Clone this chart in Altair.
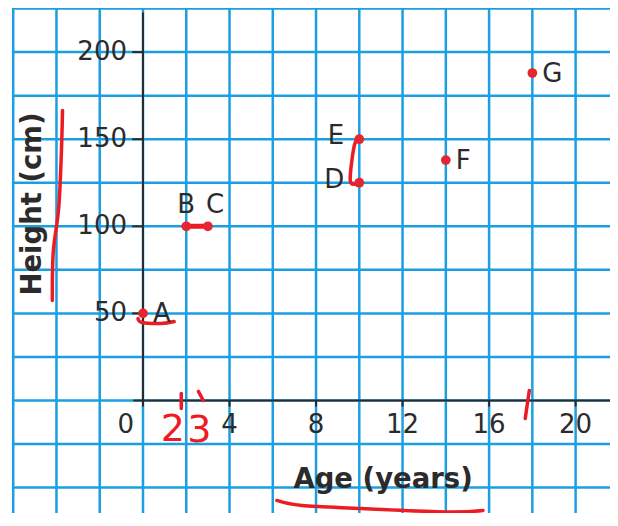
import altair as alt
import pandas as pd

# ---- data ----
labels = ["A", "B", "C", "D", "E", "F", "G"]
ages = [0, 2, 3, 10, 10, 14, 18]
heights = [50, 100, 100, 125, 150, 138, 188]
label_place = ["right", "above", "above_r", "left", "left", "right", "right"]

x_tick_values = [4, 8, 12, 16, 20]
y_tick_values = [50, 100, 150, 200]
origin_label = "0"
grid_x = list(range(-6, 23, 2))
grid_y = list(range(-75, 226, 25))

x_title = "Age (years)"
y_title = "Height (cm)"

# hand-drawn red annotation strokes (age, height)
ann_strokes = {
    "height_bar": [(-3.72, 166.5), (-3.78, 140.0), (-3.9, 110.0), (-4.15, 85.0), (-4.19, 57.4)],
    "a_under": [(-0.23, 47.1), (-0.05, 44.8), (0.84, 44.2), (1.44, 45.3)],
    "de": [(10.0, 150.4), (9.77, 146.4), (9.58, 126.3), (9.9, 124.6)],
    "tick2": [(1.77, 4.0), (1.77, -4.6)],
    "tick3": [(2.56, 5.2), (2.79, 0.0)],
    "tick18": [(17.86, 5.7), (17.67, -10.3)],
    "age_under": [(6.19, -57.4), (7.35, -60.3), (10.14, -62.0), (14.0, -64.0), (15.72, -63.1)],
}
bc_link = [(2, 100), (3, 100)]
ann_text = ["2", "3"]
ann_text_x = [1.38, 2.6]
ann_text_y = [-17.0, -17.5]

# ---- frames ----
pts = pd.DataFrame({"label": labels, "age": ages, "height": heights, "place": label_place})
ann_rows = []
for k, seq in ann_strokes.items():
    for i, (a, h) in enumerate(seq):
        ann_rows.append({"stroke": k, "i": i, "age": a, "height": h})
ann = pd.DataFrame(ann_rows)
bc = pd.DataFrame({"i": [0, 1], "age": [p[0] for p in bc_link], "height": [p[1] for p in bc_link]})
anntxt = pd.DataFrame({"t": ann_text, "age": ann_text_x, "height": ann_text_y})

W, H = 602, 502
X_MIN, X_MAX = -6.241, 21.59
xs = alt.Scale(domain=[X_MIN, X_MAX], nice=False, zero=False)
ys = alt.Scale(domain=[-64.6, 223.6], nice=False, zero=False)


def X(f):
    return alt.X(f, type="quantitative", scale=xs, axis=None)


def Y(f):
    return alt.Y(f, type="quantitative", scale=ys, axis=None)


BLUE = "#1c9fe2"
RED = "#ec1c24"
INK = "#2b2b2b"
FONT = "DejaVu Sans"

gx = alt.Chart(pd.DataFrame({"v": grid_x})).mark_rule(color=BLUE, strokeWidth=2.5).encode(
    x=X("v"), y=alt.value(-3.5), y2=alt.value(H + 2)
)
gy = alt.Chart(pd.DataFrame({"v": grid_y})).mark_rule(color=BLUE, strokeWidth=2.5).encode(
    y=Y("v"), x=alt.X(datum=-6.06, scale=xs, axis=None), x2=alt.value(W + 2)
)

base_one = alt.Chart(pd.DataFrame({"d": [0]}))
y_axis_line = base_one.mark_rule(color=INK, strokeWidth=2).encode(
    x=alt.X(datum=0, scale=xs, axis=None), y=alt.Y(datum=-3.5, scale=ys, axis=None), y2=alt.datum(222.7)
)
x_axis_line = base_one.mark_rule(color=INK, strokeWidth=2).encode(
    y=alt.Y(datum=0, scale=ys, axis=None), x=alt.X(datum=-0.45, scale=xs, axis=None), x2=alt.value(W + 2)
)
y_ticks = alt.Chart(pd.DataFrame({"v": y_tick_values})).mark_rule(color=INK, strokeWidth=2).encode(
    y=Y("v"), x=alt.X(datum=-0.5, scale=xs, axis=None), x2=alt.datum(0)
)
x_ticks = alt.Chart(pd.DataFrame({"v": x_tick_values})).mark_rule(color=INK, strokeWidth=2).encode(
    x=X("v"), y=alt.Y(datum=0, scale=ys, axis=None), y2=alt.datum(-3.5)
)
y_labels = alt.Chart(pd.DataFrame({"v": y_tick_values})).mark_text(
    font=FONT, fontSize=26, color=INK, align="right", baseline="middle", dx=-16
).encode(y=Y("v"), x=alt.X(datum=0, scale=xs, axis=None), text=alt.Text("v:Q"))
x_labels = alt.Chart(pd.DataFrame({"v": x_tick_values})).mark_text(
    font=FONT, fontSize=26, color=INK, align="center", baseline="top", dy=12
).encode(x=X("v"), y=alt.Y(datum=0, scale=ys, axis=None), text=alt.Text("v:Q"))
o_label = alt.Chart(pd.DataFrame({"t": [origin_label]})).mark_text(
    font=FONT, fontSize=26, color=INK, align="right", baseline="top", dx=-9, dy=12
).encode(x=alt.X(datum=0, scale=xs, axis=None), y=alt.Y(datum=0, scale=ys, axis=None), text="t:N")

x_tt = alt.Chart(pd.DataFrame({"t": [x_title]})).mark_text(
    font=FONT, fontSize=27.5, fontWeight="bold", color=INK, align="center", baseline="alphabetic"
).encode(x=alt.X(datum=11.1, scale=xs, axis=None), y=alt.Y(datum=-50.5, scale=ys, axis=None), text="t:N")
y_tt = alt.Chart(pd.DataFrame({"t": [y_title]})).mark_text(
    font=FONT, fontSize=27.5, fontWeight="bold", color=INK, align="center", baseline="alphabetic", angle=270
).encode(x=alt.X(datum=-4.7, scale=xs, axis=None), y=alt.Y(datum=112.8, scale=ys, axis=None), text="t:N")

ann_lines = alt.Chart(ann).mark_line(
    color=RED, strokeWidth=3.5, strokeCap="round", strokeJoin="round", interpolate="cardinal"
).encode(x=X("age"), y=Y("height"), detail="stroke:N", order="i:Q")
bc_line = alt.Chart(bc).mark_line(color=RED, strokeWidth=5, strokeCap="round").encode(
    x=X("age"), y=Y("height"), order="i:Q"
)
ann_t = alt.Chart(anntxt).mark_text(
    font=FONT, fontSize=38, color=RED, align="center", baseline="middle"
).encode(x=X("age"), y=Y("height"), text="t:N")

points = alt.Chart(pts).mark_circle(size=95, color="#e5262e", opacity=1).encode(x=X("age"), y=Y("height"))

place_style = {
    "right": dict(align="left", baseline="middle", dx=10, dy=1),
    "left": dict(align="right", baseline="middle", dx=-15, dy=-3),
    "above": dict(align="center", baseline="alphabetic", dx=0, dy=-13),
    "above_r": dict(align="left", baseline="alphabetic", dx=-2, dy=-13),
}
label_layers = []
for place, st in place_style.items():
    label_layers.append(
        alt.Chart(pts).transform_filter(alt.datum.place == place).mark_text(
            font=FONT, fontSize=26, color=INK, **st
        ).encode(x=X("age"), y=Y("height"), text="label:N")
    )

chart = alt.layer(
    gx, gy, y_axis_line, x_axis_line, y_ticks, x_ticks,
    y_labels, x_labels, o_label, x_tt, y_tt,
    ann_lines, bc_line, ann_t, points, *label_layers
).properties(
    width=W, height=H,
    padding={"left": 0, "top": 3, "right": 0, "bottom": 0},
    autosize=alt.AutoSizeParams(type="none"),
).configure_view(stroke=None)

chart.save("out.html", embed_options={"renderer": "svg", "actions": False})
